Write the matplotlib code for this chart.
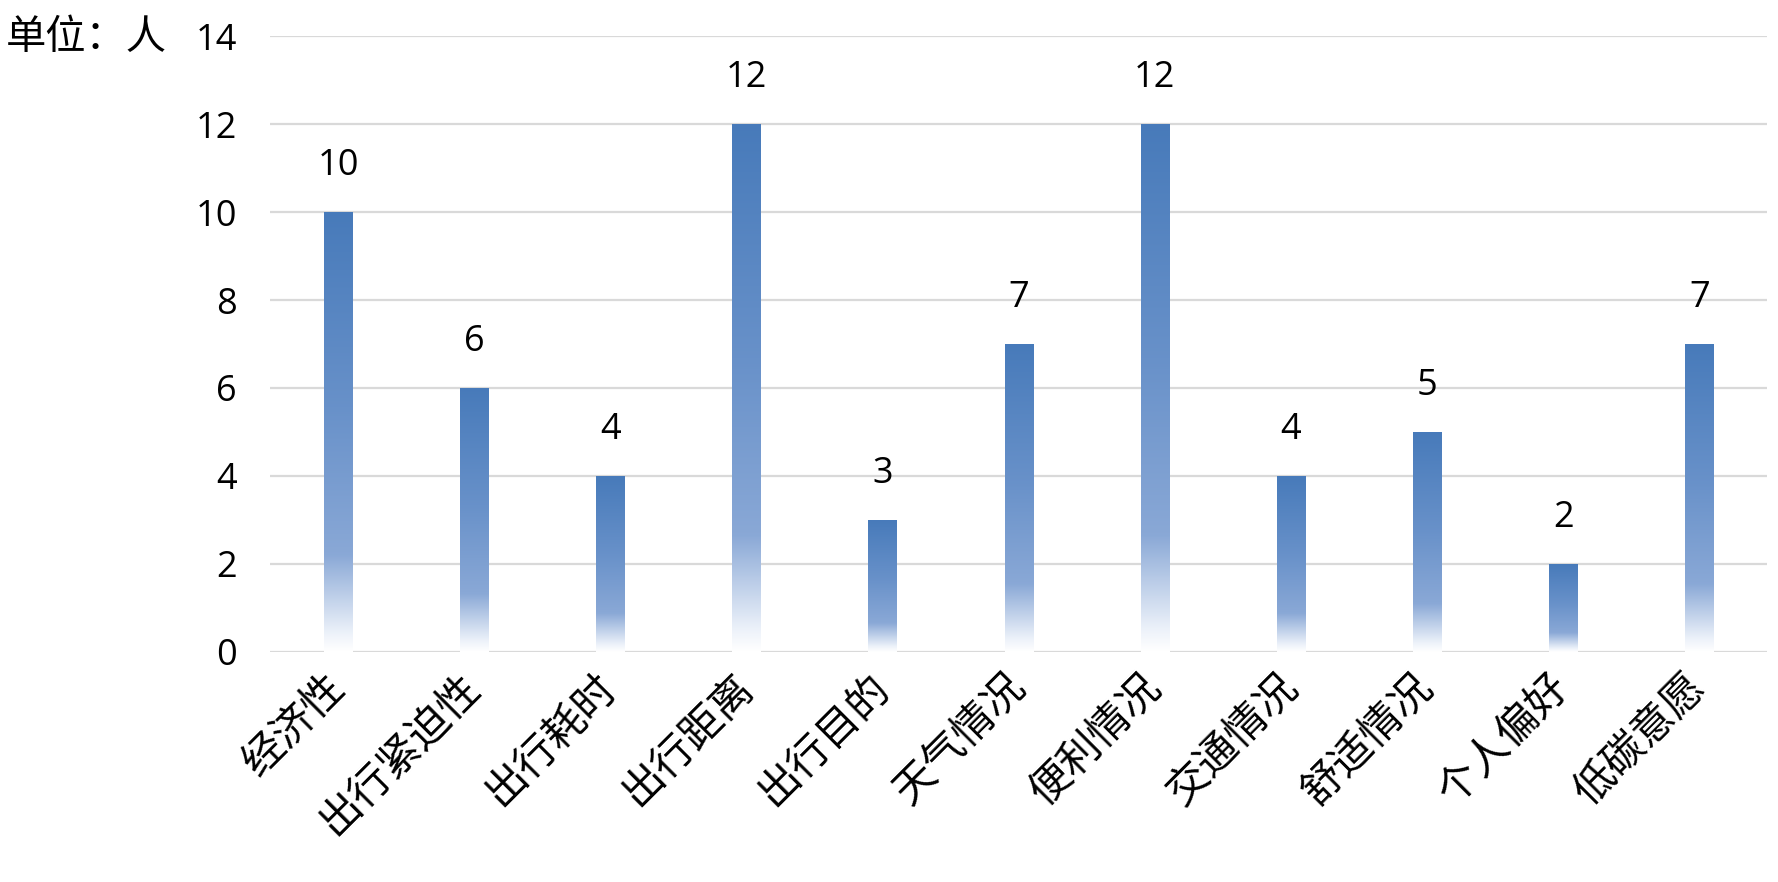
import matplotlib
matplotlib.use("Agg")
import matplotlib.pyplot as plt
import numpy as np
from matplotlib.colors import LinearSegmentedColormap

plt.rcParams['font.family'] = ['Noto Sans CJK SC', 'DejaVu Sans']

categories = ["经济性", "出行紧迫性", "出行耗时", "出行距离", "出行目的", "天气情况",
              "便利情况", "交通情况", "舒适情况", "个人偏好", "低碳意愿"]
values = [10, 6, 4, 12, 3, 7, 12, 4, 5, 2, 7]
yticks = [0, 2, 4, 6, 8, 10, 12, 14]
unit_label = "单位：人"

fig = plt.figure(figsize=(17.78, 8.82), dpi=100)
ax = fig.add_axes([0.152, 0.261, 0.842, 0.698])

# gradient: bottom (0) white -> top (1) dark blue
cmap = LinearSegmentedColormap.from_list(
    "bargrad",
    [(0.0, (1, 1, 1)), (0.04, (0.93, 0.95, 0.98)), (0.22, (0.54, 0.66, 0.84)),
     (0.55, (0.41, 0.57, 0.79)), (1.0, (0.28, 0.48, 0.73))])
grad = np.linspace(0, 1, 256).reshape(-1, 1)

num_font = ["Open Sans", "DejaVu Sans"]
x = np.arange(len(categories))
width = 0.21
for xi, v in zip(x, values):
    ax.imshow(grad, cmap=cmap, origin="lower", aspect="auto",
              extent=(xi - width / 2, xi + width / 2, 0, v), zorder=2,
              interpolation="bilinear")
    ax.text(xi, v + 1.05, str(v), ha="center", va="center",
            fontsize=26, family=num_font, color="black", zorder=3)

ax.set_xlim(-0.5, len(categories) - 0.5)
ax.set_ylim(0, 14)
ax.set_yticks(yticks)
ax.set_yticklabels([str(t) for t in yticks], family=num_font, fontsize=26)
ax.set_xticks(x)
ax.set_xticklabels(categories, rotation=45, ha="right", va="center",
                   rotation_mode="anchor", fontsize=30)
ax.tick_params(axis="both", length=0, colors="black")
ax.tick_params(axis="y", pad=24)
ax.tick_params(axis="x", pad=21)
ax.grid(axis="y", color="#d9d9d9", linewidth=1.6, zorder=0)
ax.set_axisbelow(True)
for s in ax.spines.values():
    s.set_visible(False)

fig.text(0.003, 0.958, unit_label, ha="left", va="center", fontsize=29)

fig.savefig("out.png", dpi=100, facecolor="white")
